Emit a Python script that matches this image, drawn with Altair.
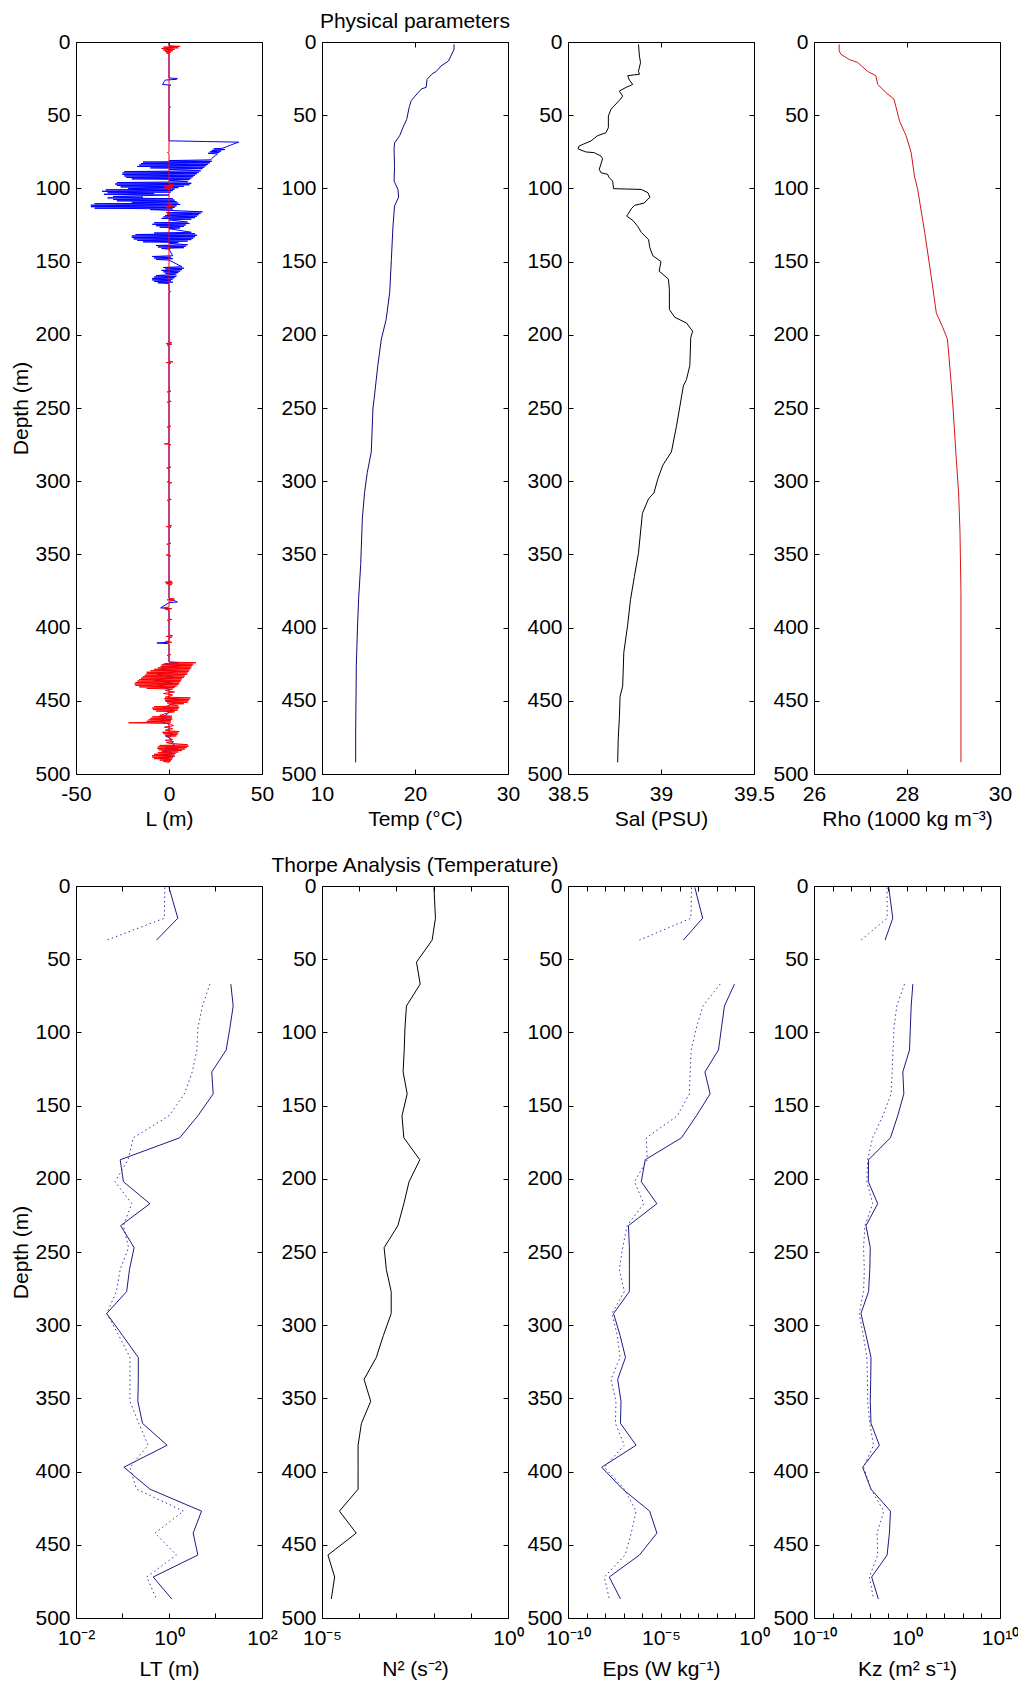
import altair as alt
import pandas as pd

FONT = "Liberation Sans"
FS = 21
PW, PH = 186, 732

# ---------------- data ----------------
# Thorpe displacement L (m): (depth, L)
L_blue = [
    (0.5, 0), (2.5, 0), (3.5, 2.5), (4.5, -2), (5.5, 1), (6.5, 0), (24.5, 0), (25, 4.5), (25.5, 4),
    (26, -2), (27, -2.5), (28, -3), (29, -3.5), (29.5, 1), (30, 0), (44, 0), (44.5, 0.8), (45, 0),
    (67.5, 0), (68, 20), (68.4, 37.5), (69.5, 35), (70.5, 33), (71.5, 31), (72.5, 29), (73, 24),
    (73.5, 30), (74, 23), (74.5, 28), (75, 22), (75.5, 27), (76, 21), (76.5, 26), (77.5, 25),
    (78.5, 24), (79.5, 23), (80.5, 22.5), (81, 0), (81.5, 23), (82, -14), (82.5, 22), (83, -15),
    (83.5, 21), (84, -16), (84.5, 20), (85, -17), (85.5, 19), (86, -10), (86.5, 18), (87, 0),
    (88, 17), (88.5, -24), (89, 16), (89.5, -25), (90, 15), (90.5, -25), (91, 14), (91.5, -24),
    (92, 13), (92.5, -23), (93, 12), (93.5, -20), (94, 11), (94.5, 0), (95.5, 10), (96, -28),
    (96.5, 12), (97, -29), (97.5, 11), (98, -28), (98.5, 8), (99, -26), (99.5, 5), (100, -22),
    (100.5, 3), (101, -34), (101.5, 2), (102, -36), (102.5, 1), (103, -33), (103.5, -8), (104, -35),
    (104.5, 0), (105.5, -30), (106, -14), (106.5, -33), (107, 2), (107.5, -30), (108, 3),
    (108.5, -28), (109, 4), (109.5, -20), (110, 5), (110.5, -40), (111, 6), (111.5, -42), (112, 4),
    (112.5, -42), (113, 3), (113.5, -40), (114, 2), (114.5, -10), (115, 0), (116, 18), (116.5, -1),
    (117, 17), (117.5, -1), (118, 16), (118.5, -2), (119, 15), (119.5, -3), (120, 14), (120.5, -4),
    (121, 12), (121.5, 0), (123, 10), (123.5, -8), (124, 11), (124.5, -9), (125, 9), (125.5, -7),
    (126, 8), (126.5, -5), (127, 6), (127.5, 0), (130, 12), (130.5, -8), (131, 14), (131.5, -18),
    (132, 15), (132.5, -20), (133, 14), (133.5, -20), (134, 13), (134.5, -19), (135, 12),
    (135.5, -17), (136, 10), (136.5, -14), (137, 5), (137.5, 0), (138.5, 10), (139, -7),
    (139.5, 9), (140, -6), (140.5, 8), (141, -4), (141.5, 0), (146, 2), (146.5, -9), (147, 1),
    (147.5, -8), (148, 2), (148.5, -7), (149, 0), (153.5, 7), (154, -3), (154.5, 8), (155, -2),
    (155.5, 7), (156, -4), (156.5, 6), (157, -3), (157.5, 5), (158, -2), (158.5, 4), (159, 0),
    (159.5, -7), (160, 4), (160.5, -8), (161, 3), (161.5, -9), (162, 2), (162.5, -9), (163, 1),
    (163.5, -8), (164, 2), (164.5, -6), (165, 0), (170, 0), (170.5, 0.8), (171, 0),
    (380, 0), (382.5, 4.5), (383, 0), (386.5, -4.5), (387, 0), (410, 0), (410.5, -6.5), (411, 0),
    (423.5, 0), (424, 5), (425, -3), (426, 6), (428, -4), (430, 4), (432, -6), (434, 3), (436, -8),
    (438, 2), (440, -6), (442, 0), (448, 0), (449, 5), (450, -2), (451, 4), (453, 0), (455, -3),
    (456, 2), (458, 0), (462, -4), (463, 1), (464, -5), (466, 0), (472, 0), (473, 2), (474, -2),
    (475, 0), (481, 3), (482, -2), (483, 5), (484, -3), (486, 2), (487, -4), (488, 3), (489, -5),
    (490, 1), (492, 0),
]
L_red = [
    (0.5, 0), (2.5, 0), (3, 6), (3.5, -3), (4, 5), (4.5, -4), (5, 3), (5.5, -3), (6, 2), (6.5, -2),
    (7, 1), (7.5, -1.5), (8, 0), (75, 0), (75.5, -0.8), (76, 0), (97, 0), (97.5, 2.5), (98, -2),
    (98.5, 2), (99, -2.5), (99.5, 1.5), (100, -1.5), (100.5, 0), (111, 0), (111.5, 1.5), (112, -2),
    (112.5, 2), (113, -1.5), (113.5, 0), (116, 0), (116.5, -1.5), (117, 1.5), (117.5, 0),
    (140, 0), (140.5, -1), (141, 1), (141.5, 0), (205, 0), (205.5, 1.5), (206, -1.5), (206.5, 1.5),
    (207, -1), (207.5, 0), (218, 0), (218.5, 2), (219, -1.5), (219.5, 1), (220, 0), (238, 0),
    (238.5, 1), (239, -1), (239.5, 0), (245, 0), (245.5, 1.2), (246, -1), (246.5, 0), (262, 0),
    (262.5, 1), (263, -1), (263.5, 0), (274, 0), (274.5, -2.5), (275, 1), (275.5, 0), (290, 0),
    (290.5, 1), (291, -1.2), (291.5, 0), (300, 0), (300.5, -1), (301, 1.5), (301.5, 0), (312, 0),
    (312.5, 1.2), (313, -1), (313.5, 0), (330, 0), (330.5, 1.5), (331, -1.5), (331.5, 1), (332, 0),
    (342, 0), (342.5, 1), (343, -1.2), (343.5, 0), (350, 0), (350.5, -1.5), (351, 1), (351.5, 0),
    (368, 0), (368.5, 1.5), (369, -2), (369.5, 2), (370, -1.5), (370.5, 1.5), (371, 0), (380, 0),
    (380.5, 3), (381, -1), (381.5, 2.5), (382, 0), (386, 0), (386.5, -3), (387, 1.5), (387.5, -2),
    (388, 0), (394, 0), (394.5, 1.5), (395, -1), (395.5, 0), (405, 0), (405.5, 2), (406, -1.5),
    (406.5, 1.5), (407, 0), (409, 0), (409.5, -2), (410, 1.5), (410.5, -1), (411, 0), (418, 0),
    (418.5, 1), (419, -1), (419.5, 0),
    (423.5, 0), (424, 14.5), (424.5, -2), (425, 13), (425.5, -4), (426, 12.5), (426.5, -4.5),
    (427, 12), (427.5, -6), (428, 11.5), (428.5, -8), (429, 11), (429.5, -10), (430, 10.5),
    (430.5, -12), (431, 10), (431.5, -12), (432, 9.5), (432.5, -13), (433, 8.5), (433.5, -14),
    (434, 8), (434.5, -15), (435, 7), (435.5, -16), (436, 6.5), (436.5, -17), (437, 6),
    (437.5, -18), (438, 5.5), (438.5, -18.5), (439, 5), (439.5, -18), (440, 4), (440.5, -16),
    (441, 3), (441.5, -12), (442, 2), (443, -2), (444, 3), (445, -3), (446, 2), (447, 0),
    (447.5, -2), (448, 11.5), (448.5, -2.5), (449, 11), (449.5, -2), (450, 10.5), (450.5, -1.5),
    (451, 10), (451.5, -1), (452, 8), (452.5, 0), (453.5, 5), (454, -8), (454.5, 5.5), (455, -9),
    (455.5, 5), (456, -8.5), (456.5, 4.5), (457, -7), (457.5, 3), (458, 0), (460, -5),
    (460.5, 1.5), (461, -9), (461.5, 1.5), (462, -10), (462.5, 1.8), (463, -11), (463.5, 1),
    (464, -12), (464.5, 1), (465, -21.7), (465.5, 0), (467, 2.5), (468, -2.5), (469, 2), (470, -2),
    (470.5, 0), (471, 5.5), (471.5, -3.5), (472, 5), (472.5, -3), (473, 4.5), (473.5, -2), (474, 4),
    (474.5, -1), (475, 0), (476.5, 2), (477, -2), (478, 2.5), (478.5, -1.5), (479, 0), (480, 10),
    (480.5, -5), (481, 10.5), (481.5, -6), (482, 9.5), (482.5, -6.3), (483, 8.5), (483.5, -5.5),
    (484, 7), (484.5, -4), (485, 5), (485.5, -6), (486, 3.5), (486.5, -8), (487, 3), (487.5, -9),
    (488, 2.5), (488.5, -9), (489, 2), (489.5, -8), (490, 1.5), (490.5, -5), (491, 1), (491.5, -3),
    (492, 0),
]
# Temperature (deg C): (depth, T)
temp_profile = [
    (1.6, 24.2), (5, 24.2), (13, 23.6), (16.4, 22.8), (20, 22.3), (22, 21.8), (25.5, 21.3),
    (31, 21.2), (32, 20.7), (37, 20.0), (40, 19.6), (44, 19.4), (53, 19.1), (58.5, 18.7),
    (64, 18.35), (69, 17.8), (73, 17.75), (85, 17.8), (95, 17.75), (100.7, 18.17), (106, 18.24),
    (112, 17.8), (126, 17.63), (148.5, 17.46), (171, 17.28), (189.5, 16.9), (203, 16.38),
    (221, 16.0), (244, 15.6), (250, 15.48), (280, 15.3), (294, 14.87), (307, 14.59), (325, 14.34),
    (357, 14.16), (380, 13.94), (403, 13.8), (426, 13.69), (472, 13.62), (492, 13.62),
]
# Salinity (PSU): (depth, S)
sal_profile = [
    (1.6, 38.879), (9.6, 38.884), (14, 38.89), (20, 38.879), (22, 38.884), (23, 38.821),
    (26, 38.83), (29, 38.848), (31, 38.812), (33.5, 38.776), (37, 38.794), (39, 38.782),
    (46, 38.731), (50.6, 38.717), (58.5, 38.717), (62, 38.704), (64, 38.659), (67.6, 38.623),
    (71, 38.56), (73, 38.554), (75.1, 38.596), (75.6, 38.641), (77.9, 38.677), (79.7, 38.686),
    (87, 38.668), (89.3, 38.677), (90.4, 38.713), (92.7, 38.722), (95, 38.74), (100.2, 38.745),
    (100.7, 38.894), (103, 38.93), (106, 38.94), (110, 38.91), (111.6, 38.857), (114, 38.84),
    (118, 38.82), (119, 38.816), (122, 38.85), (126, 38.875), (130, 38.894), (135, 38.933),
    (140.5, 38.94), (146, 38.956), (150, 39.0), (156.5, 38.99), (162, 39.04), (169, 39.045),
    (182.7, 39.045), (188, 39.074), (192, 39.137), (197.5, 39.17), (202, 39.16), (221, 39.155),
    (230.5, 39.137), (235, 39.12), (250, 39.10), (262.5, 39.083), (280, 39.056), (289, 39.01),
    (298, 38.984), (308, 38.962), (312, 38.933), (322, 38.90), (349, 38.879), (365, 38.857),
    (381, 38.836), (399, 38.82), (417, 38.80), (440, 38.794), (447, 38.78), (462, 38.776),
    (476, 38.77), (492, 38.767),
]
# Density (1000 kg m-3 offset): (depth, rho)
rho_profile = [
    (1.6, 26.54), (6, 26.54), (8.4, 26.58), (12, 26.76), (14, 26.94), (20, 27.15), (23, 27.33),
    (29, 27.37), (34.6, 27.55), (39, 27.72), (54, 27.84), (64, 27.98), (75.6, 28.09),
    (91.6, 28.16), (100.7, 28.23), (130, 28.38), (160, 28.52), (185, 28.63), (195, 28.77),
    (203, 28.87), (233, 28.95), (250, 28.99), (285, 29.06), (308, 29.11), (335, 29.14),
    (376, 29.16), (492, 29.16),
]

# Thorpe-analysis bins (depth, m) and log10 values (None = no value)
bin_depth = [1, 22, 37, 52, 67, 82, 97, 112, 127, 142, 157, 172, 187, 202, 217, 232, 247,
             262, 277, 292, 307, 322, 337, 352, 367, 382, 397, 412, 427, 442, 457, 472, 487]
LT_solid_log = [0.0, 0.19, -0.27, None, 1.33, 1.38, 1.31, 1.23, 0.92, 0.95, 0.62, 0.23, -1.05,
                -0.98, -0.41, -1.04, -0.75, -0.85, -0.91, -1.34, -1.0, -0.66, -0.66, -0.67, -0.57,
                -0.04, -0.97, -0.41, 0.70, 0.52, 0.62, -0.34, 0.06]
LT_dot_log = [-0.09, -0.10, -1.34, None, 0.88, 0.72, 0.62, 0.60, 0.50, 0.33, 0.0, -0.77, -0.88,
              -1.16, -0.80, -0.98, -0.87, -1.05, -1.13, -1.34, -1.08, -0.84, -0.84, -0.84, -0.65,
              -0.45, -0.84, -0.70, 0.31, -0.30, 0.16, -0.48, -0.27]
N2_log = [-1.99, -1.95, -2.04, -2.46, -2.36, -2.73, -2.77, -2.79, -2.82, -2.71, -2.85, -2.80,
          -2.37, -2.66, -2.80, -2.96, -3.33, -3.27, -3.14, -3.14, -3.35, -3.54, -3.87, -3.69,
          -3.94, -4.03, -4.03, -4.03, -4.53, -4.08, -4.84, -4.66, -4.75]
Eps_solid_log = [-3.18, -2.76, -3.8, None, -1.05, -1.59, -1.75, -1.91, -2.64, -2.36, -3.1, -3.9,
                 -5.85, -6.06, -5.22, -6.75, -6.7, -6.70, -6.70, -7.55, -7.2, -6.91, -7.33, -7.15,
                 -7.18, -6.34, -8.19, -7.06, -5.61, -5.22, -6.16, -7.78, -7.18]
Eps_dot_log = [-3.36, -3.39, -6.16, None, -1.82, -2.75, -3.1, -3.38, -3.43, -3.48, -4.12, -5.79,
               -5.74, -6.43, -5.92, -6.82, -7.06, -7.24, -6.97, -7.64, -7.35, -7.2, -7.69, -7.42,
               -7.45, -6.97, -8.05, -6.97, -6.34, -6.6, -6.93, -8.05, -7.78]
Kz_solid_log = [-1.96, -1.53, -2.36, None, 0.63, 0.45, 0.36, 0.27, -0.45, -0.34, -1.0, -1.78,
                -4.13, -4.16, -3.15, -4.41, -3.95, -4.0, -4.13, -4.95, -4.4, -3.87, -3.9, -3.95,
                -3.87, -2.97, -4.77, -3.87, -1.78, -1.89, -2.14, -3.80, -3.08]
Kz_dot_log = [-2.14, -2.14, -4.95, None, -0.27, -1.1, -1.4, -1.5, -1.6, -1.71, -2.6, -3.7, -4.23,
              -4.31, -3.69, -4.52, -4.67, -4.59, -4.67, -5.14, -4.7, -4.31, -4.25, -4.23, -4.0,
              -3.6, -4.67, -3.87, -2.5, -3.22, -3.15, -4.05, -3.59]

DEPTH_TICKS = [0, 50, 100, 150, 200, 250, 300, 350, 400, 450, 500]
SUP = {"-": "\u207b", "0": "\u2070", "1": "\u00b9", "2": "\u00b2", "5": "\u2075"}


# ---------------- helpers ----------------
def prof_df(pairs):
    return pd.DataFrame({"depth": [p[0] for p in pairs],
                         "val": [p[1] for p in pairs],
                         "idx": list(range(len(pairs)))})


def bin_df(logs):
    rows, seg = [], 0
    for i, (d, e) in enumerate(zip(bin_depth, logs)):
        if e is None:
            seg += 1
            continue
        rows.append({"depth": d, "val": 10.0 ** e, "idx": i, "seg": seg})
    return pd.DataFrame(rows)


def pow_label_expr(exps):
    expr = "''"
    for e in reversed(exps):
        lab = "10" + "".join(SUP[c] for c in str(e))
        expr = f"round(log(datum.value)/LN10) == {e} ? '{lab}' : ({expr})"
    return expr


YSCALE = alt.Scale(domain=[0, 500], reverse=True, nice=False, zero=False)


def panel(series, xscale, xticks, xtitle, xlabel_expr, ytitle=None, ptitle=None,
          title_pad=4):
    layers = []
    for k, s in enumerate(series):
        first = k == 0
        if first:
            xa = alt.Axis(orient="bottom", values=xticks, title=xtitle, labelExpr=xlabel_expr,
                          offset=-5, tickSize=5, domain=False, grid=False, labelFlush=False,
                          labelPadding=9, titlePadding=title_pad, labelOverlap=False)
            ya = alt.Axis(orient="left", values=DEPTH_TICKS, title=ytitle,
                          labelExpr="'' + datum.value", offset=-5, tickSize=5, domain=False,
                          grid=False, labelFlush=False, labelPadding=6, titlePadding=3,
                          labelOverlap=False)
        else:
            xa = None
            ya = None
        mk_kw = dict(color=s["color"], strokeWidth=1, clip=True)
        if "dash" in s:
            mk_kw["strokeDash"] = s["dash"]
        enc = dict(x=alt.X("val:Q", scale=xscale, axis=xa),
                   y=alt.Y("depth:Q", scale=YSCALE, axis=ya),
                   order=alt.Order("idx:Q"))
        if "seg" in s["df"].columns:
            enc["detail"] = alt.Detail("seg:N")
        layers.append(alt.Chart(s["df"]).mark_line(**mk_kw).encode(**enc))
    mirror = alt.Chart(series[0]["df"]).mark_point(opacity=0, size=1).encode(
        x=alt.X("val:Q", scale=xscale,
                axis=alt.Axis(orient="top", values=xticks, labels=False, title=None, offset=-5,
                              tickSize=5, domain=False, grid=False)),
        y=alt.Y("depth:Q", scale=YSCALE,
                axis=alt.Axis(orient="right", values=DEPTH_TICKS, labels=False, title=None,
                              offset=-5, tickSize=5, domain=False, grid=False)),
    )
    ch = alt.layer(*layers, mirror).resolve_axis(x="independent", y="independent")
    props = dict(width=PW, height=PH)
    if ptitle:
        props["title"] = alt.TitleParams(text=ptitle, font=FONT, fontSize=FS,
                                         fontWeight="normal", color="black", offset=-1,
                                         anchor="middle")
    return ch.properties(**props)


LIN = "'' + datum.value"
NAVY = "#0c0c7a"
BLUE_SOLID = "#1c1c84"
BLUE_DOT = "#3636a4"

p1 = panel([{"df": prof_df(L_blue), "color": "#0000ff"},
            {"df": prof_df(L_red), "color": "#ff0000"}],
           alt.Scale(domain=[-50, 50], nice=False, zero=False), [-50, 0, 50], "L (m)", LIN,
           ytitle="Depth (m)")
p2 = panel([{"df": prof_df(temp_profile), "color": NAVY}],
           alt.Scale(domain=[10, 30], nice=False, zero=False), [10, 20, 30], "Temp (\u00b0C)", LIN,
           ptitle="Physical parameters")
p3 = panel([{"df": prof_df(sal_profile), "color": "#000000"}],
           alt.Scale(domain=[38.5, 39.5], nice=False, zero=False), [38.5, 39, 39.5],
           "Sal (PSU)", LIN)
p4 = panel([{"df": prof_df(rho_profile), "color": "#d41515"}],
           alt.Scale(domain=[26, 30], nice=False, zero=False), [26, 28, 30],
           "Rho (1000 kg m\u207b\u00b3)", LIN)

q1 = panel([{"df": bin_df(LT_solid_log), "color": BLUE_SOLID},
            {"df": bin_df(LT_dot_log), "color": BLUE_DOT, "dash": [1.5, 3]}],
           alt.Scale(type="log", domain=[1e-2, 1e2], nice=False),
           [10.0 ** e for e in range(-2, 3)], "LT (m)", pow_label_expr([-2, 0, 2]),
           ytitle="Depth (m)", title_pad=10)
q2 = panel([{"df": bin_df(N2_log), "color": "#000000"}],
           alt.Scale(type="log", domain=[1e-5, 1], nice=False),
           [10.0 ** e for e in range(-5, 1)], "N\u00b2 (s\u207b\u00b2)", pow_label_expr([-5, 0]),
           ptitle="Thorpe Analysis (Temperature)", title_pad=10)
q3 = panel([{"df": bin_df(Eps_solid_log), "color": BLUE_SOLID},
            {"df": bin_df(Eps_dot_log), "color": BLUE_DOT, "dash": [1.5, 3]}],
           alt.Scale(type="log", domain=[1e-10, 1], nice=False),
           [10.0 ** e for e in range(-10, 1)], "Eps (W kg\u207b\u00b9)",
           pow_label_expr([-10, -5, 0]), title_pad=10)
q4 = panel([{"df": bin_df(Kz_solid_log), "color": BLUE_SOLID},
            {"df": bin_df(Kz_dot_log), "color": BLUE_DOT, "dash": [1.5, 3]}],
           alt.Scale(type="log", domain=[1e-10, 1e10], nice=False),
           [10.0 ** e for e in range(-10, 11, 2)], "Kz (m\u00b2 s\u207b\u00b9)",
           pow_label_expr([-10, 0, 10]), title_pad=10)

chart = alt.concat(p1, p2, p3, p4, q1, q2, q3, q4, columns=4,
                   spacing={"row": 112, "column": 60}, bounds="flush").properties(
    padding={"left": 2, "top": 2, "right": -2, "bottom": 2},
    background="white",
).configure_view(
    stroke="black", strokeWidth=1, fill="white"
).configure_axis(
    labelFont=FONT, labelFontSize=FS, labelColor="black",
    titleFont=FONT, titleFontSize=FS, titleFontWeight="normal", titleColor="black",
    tickColor="black", tickWidth=1,
).configure_title(font=FONT, fontSize=FS, fontWeight="normal", color="black")

chart.save("out.html", embed_options={"renderer": "svg", "actions": False})
